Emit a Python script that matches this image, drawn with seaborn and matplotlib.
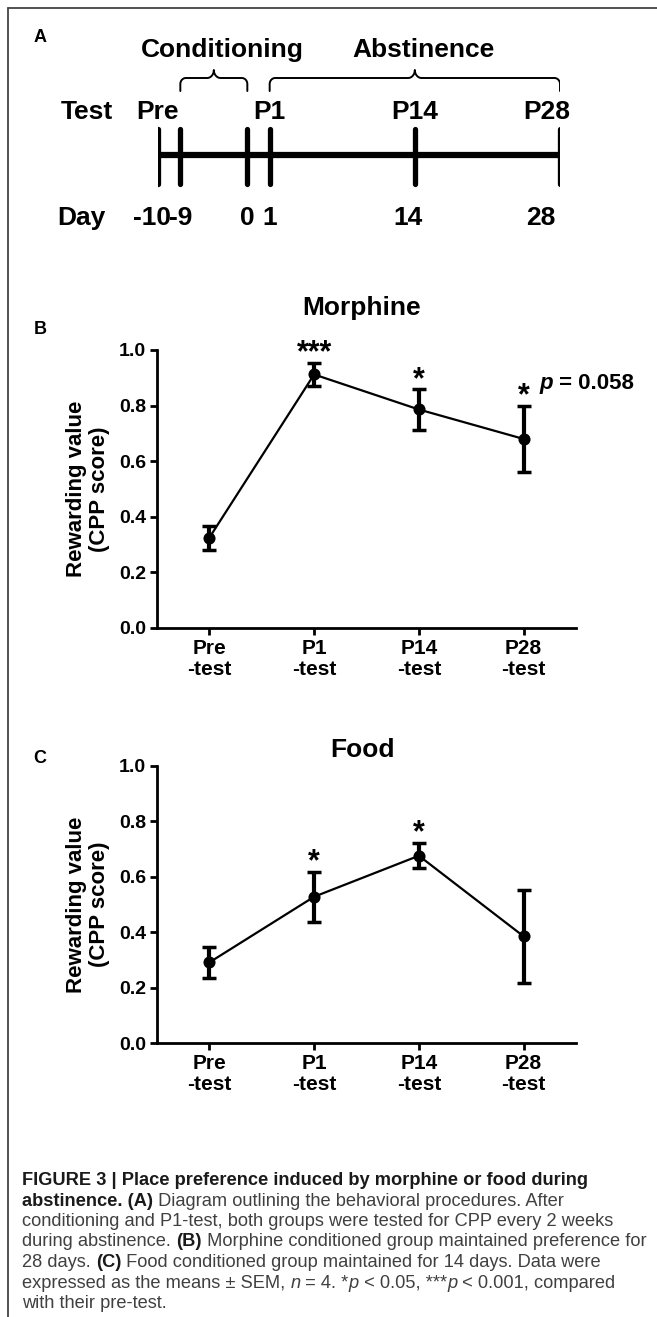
import numpy as np
import matplotlib
matplotlib.use("Agg")
import matplotlib.pyplot as plt
import seaborn as sns
from matplotlib.lines import Line2D
from matplotlib.font_manager import FontProperties
from matplotlib.ticker import FormatStrFormatter
from matplotlib.transforms import blended_transform_factory

# =====================================================
# DATA
# =====================================================
tests = ["Pre\n-test", "P1\n-test", "P14\n-test", "P28\n-test"]

morphine_mean = [0.325, 0.912, 0.786, 0.680]
morphine_sem = [0.043, 0.040, 0.072, 0.118]
morphine_stars = ["", "***", "*", "*"]

food_mean = [0.291, 0.528, 0.676, 0.385]
food_sem = [0.057, 0.091, 0.045, 0.168]
food_stars = ["", "*", "*", ""]

# timeline of panel A
timeline_days = [-10, -9, 0, 1, 14, 28]
test_days = [-10, 1, 14, 28]
test_names = ["Pre", "P1", "P14", "P28"]
phase_names = ["Conditioning", "Abstinence"]
phase_spans = [(-9, 0), (1, 28)]

caption = [
    [("FIGURE 3 | Place preference induced by morphine or food during", "bold", "normal")],
    [("abstinence. (A)", "bold", "normal"),
     (" Diagram outlining the behavioral procedures. After", "normal", "normal")],
    [("conditioning and P1-test, both groups were tested for CPP every 2 weeks", "normal", "normal")],
    [("during abstinence. ", "normal", "normal"), ("(B)", "bold", "normal"),
     (" Morphine conditioned group maintained preference for", "normal", "normal")],
    [("28 days. ", "normal", "normal"), ("(C)", "bold", "normal"),
     (" Food conditioned group maintained for 14 days. Data were", "normal", "normal")],
    [("expressed as the means \u00b1 SEM, ", "normal", "normal"), ("n", "normal", "italic"),
     (" = 4. *", "normal", "normal"), ("p", "normal", "italic"), (" < 0.05, ***", "normal", "normal"),
     ("p", "normal", "italic"), (" < 0.001, compared", "normal", "normal")],
    [("with their pre-test.", "normal", "normal")],
]

# =====================================================
# STYLE
# =====================================================
sns.set_style("ticks")
plt.rcParams['font.family'] = ['Liberation Sans', 'DejaVu Sans']
plt.rcParams['font.weight'] = 'bold'
plt.rcParams['axes.labelweight'] = 'bold'
for key in ['text.color', 'axes.labelcolor', 'xtick.color', 'ytick.color', 'axes.edgecolor']:
    plt.rcParams[key] = 'black'

W, H = 657, 1317
fig = plt.figure(figsize=(W / 100, H / 100), dpi=100)
renderer = fig.canvas.get_renderer()


def fx(px):
    return px / W


def fy(py):
    return 1 - py / H


def text_width(s, prop):
    # width incl. spaces at the ends
    w1 = renderer.get_text_width_height_descent("x" + s + "x", prop, ismath=False)[0]
    w0 = renderer.get_text_width_height_descent("xx", prop, ismath=False)[0]
    return w1 - w0


def runs_width(runs, size, family):
    return sum(text_width(t, FontProperties(family=family, weight=w, style=st, size=size))
               for t, w, st in runs)


def draw_runs(x_px, y_px, runs, size, family, colors):
    # y_px is the baseline, measured from the top
    x = x_px
    for txt, weight, style in runs:
        prop = FontProperties(family=family, weight=weight, style=style, size=size)
        fig.text(fx(x), fy(y_px), txt, fontproperties=prop, color=colors[weight],
                 ha='left', va='baseline')
        x += text_width(txt, prop)


# =====================================================
# PANEL A - timeline
# =====================================================
day_breaks = [-10, -9, 0, 1, 14, 28]
unit_breaks = [0, 1, 4, 5, 11.5, 18]


def fwd(d):
    return np.interp(d, day_breaks, unit_breaks)


def inv(u):
    return np.interp(u, unit_breaks, day_breaks)


ax_a = fig.add_axes([fx(158), fy(260), fx(560) - fx(158), 260 / H])
ax_a.set_xscale('function', functions=(fwd, inv))
ax_a.set_xlim(-10, 28)
ax_a.set_ylim(260, 0)
ax_a.axis('off')

ax_a.hlines(155, timeline_days[0], timeline_days[-1], color='black', lw=4.5)
ax_a.vlines(timeline_days, 129, 184, color='black', lw=3.8, capstyle='round')


def brace(ax, d0, d1, y0=78, yend=91, rx=0.25, rt=0.3, ry=6, h=8):
    u0, u1 = fwd(d0), fwd(d1)
    um = (u0 + u1) / 2
    t = np.linspace(0, np.pi / 2, 15)
    xs = np.concatenate([[u0],
                         u0 + rx * (1 - np.cos(t)),
                         um - rt + rt * np.sin(t),
                         um + rt * (1 - np.cos(t)),
                         u1 - rx + rx * np.sin(t),
                         [u1]])
    ys = np.concatenate([[yend],
                         y0 + ry * (1 - np.sin(t)),
                         y0 - h * (1 - np.cos(t)),
                         y0 - h * (1 - np.sin(t)),
                         y0 + ry * (1 - np.cos(t)),
                         [yend]])
    ax.plot(inv(xs), ys, color='black', lw=1.4, solid_capstyle='round')
    return um


for name, (d0, d1) in zip(phase_names, phase_spans):
    um = brace(ax_a, d0, d1)
    ax_a.text(inv(um + 0.4), 50, name, ha='center', va='center', fontsize=19)

blend = blended_transform_factory(fig.transFigure, ax_a.transData)
ax_a.text(fx(87), 112, "Test", transform=blend, ha='center', va='center', fontsize=19)
ax_a.text(fx(81), 218, "Day", transform=blend, ha='center', va='center', fontsize=19)

test_shift = [0, 0, 0, -13]
for d, name, sh in zip(test_days, test_names, test_shift):
    ax_a.annotate(name, (d, 112), xytext=(sh * 0.72, 0), textcoords='offset points',
                  ha='center', va='center', fontsize=19, annotation_clip=False)

day_shift = [-6, 0, 0, 0, -7, -19]
for d, sh in zip(timeline_days, day_shift):
    ax_a.annotate(str(d), (d, 218), xytext=(sh * 0.72, 0), textcoords='offset points',
                  ha='center', va='center', fontsize=19, annotation_clip=False)

fig.text(fx(40), fy(37), "A", fontsize=13, ha='center', va='center')

# =====================================================
# PANELS B, C - CPP score
# =====================================================


def cpp_panel(rect, means, sems, stars, title, title_y, letter, letter_y):
    ax = fig.add_axes(rect)
    sns.pointplot(x=tests, y=means, color='black', errorbar=None, markers='o',
                  markersize=7.5, linewidth=1.6, ax=ax, zorder=3)
    ax.errorbar(range(len(tests)), means, yerr=sems, fmt='none', ecolor='black',
                elinewidth=3, capsize=5, capthick=2.5, zorder=2)
    ax.set_xlim(-0.5, len(tests) - 0.5)
    ax.set_ylim(0, 1.0)
    ax.set_yticks(np.arange(0, 1.01, 0.2))
    ax.yaxis.set_major_formatter(FormatStrFormatter('%.1f'))
    sns.despine(ax=ax)
    for sp in ['left', 'bottom']:
        ax.spines[sp].set_linewidth(2)
        ax.spines[sp].set_color('black')
    ax.tick_params(axis='both', length=5, width=2, color='black', labelcolor='black', pad=3)
    ax.tick_params(axis='y', labelsize=14)
    ax.tick_params(axis='x', labelsize=15)
    for lab in ax.get_xticklabels():
        lab.set_linespacing(1.15)
    ax.set_xlabel("")
    ax.set_ylabel("Rewarding value\n(CPP score)", fontsize=16, labelpad=6, linespacing=1.15,
                  color='black')
    for i, s in enumerate(stars):
        if s:
            ax.annotate(s, (i, means[i] + sems[i]), xytext=(0, 7), textcoords='offset points',
                        ha='center', va='center', fontsize=22)
    fig.text(fx(362), fy(title_y), title, fontsize=19, ha='center', va='center')
    fig.text(fx(40), fy(letter_y), letter, fontsize=13, ha='center', va='center')
    return ax


rect_b = [fx(157), fy(628), fx(576) - fx(157), 278 / H]
rect_c = [fx(157), fy(1043), fx(576) - fx(157), 277 / H]
ax_b = cpp_panel(rect_b, morphine_mean, morphine_sem, morphine_stars, "Morphine", 308, "B", 330)
ax_c = cpp_panel(rect_c, food_mean, food_sem, food_stars, "Food", 750, "C", 758)

# p value next to the last morphine point
ax_x, ax_y = ax_b.transData.transform((3, morphine_mean[3] + morphine_sem[3]))
px0, py0 = ax_x + 16, H - ax_y - 17
draw_runs(px0, py0, [("p", "bold", "italic"), (" = 0.058", "bold", "normal")],
          16, ['Liberation Sans', 'DejaVu Sans'], {"bold": "black"})

# =====================================================
# FRAME + CAPTION
# =====================================================
fig.add_artist(Line2D([fx(8), 1], [fy(8), fy(8)], transform=fig.transFigure,
                      color='#444444', lw=1.3))
fig.add_artist(Line2D([fx(8), fx(8)], [fy(8), 0], transform=fig.transFigure,
                      color='#444444', lw=1.3))

cap_family = ['Liberation Sans', 'DejaVu Sans']
widest = max(runs_width(r, 10, cap_family) for r in caption[1:])
cap_size = 10 * 625 / widest
cap_colors = {"bold": "#1a1a1a", "normal": "#404040"}
for k, runs in enumerate(caption):
    draw_runs(22, 1185 + 20.5 * k, runs, cap_size, cap_family, cap_colors)

fig.savefig("out.png", dpi=100)
